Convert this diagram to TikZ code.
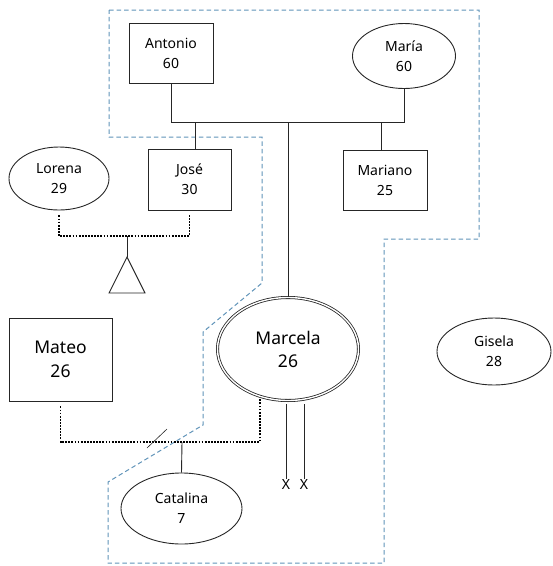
\documentclass[tikz,border=0pt]{standalone}
\usepackage{fontspec}
\setmainfont{Noto Sans}
\usetikzlibrary{positioning, shapes.geometric}
\definecolor{cdash}{HTML}{5F93B8}
\definecolor{cline}{HTML}{262626}
\tikzset{
  male/.style={draw=cline, line width=0.9pt, rectangle, inner sep=0pt, align=center},
  female/.style={draw=cline, line width=0.9pt, ellipse, inner sep=0pt, align=center},
  index/.style={double=white, double distance=1.4pt, line width=0.8pt},
  couple/.style={line width=1.8pt, dash pattern=on 1.8pt off 1.3pt},
  tie/.style={draw=cline, line width=0.9pt},
  bound/.style={cdash, line width=1pt, dash pattern=on 4.5pt off 3pt}
}

\begin{document}
\begin{tikzpicture}[x=1pt, y=-1pt, font={\fontsize{14}{20}\selectfont}]
  \useasboundingbox (0,0) rectangle (553,566);
  % household boundary
  \draw[bound] (109,10) -- (479,10) -- (479,239) -- (384,239) -- (384,563)
    -- (108,563) -- (108,482) -- (203,425) -- (203,332) -- (262,283)
    -- (262,137) -- (109,137) -- cycle;
  % people
  \node[male, minimum width=84pt, minimum height=60pt] (antonio) at (171,53) {Antonio\\60};
  \node[female, minimum width=103pt, minimum height=65pt] (maria) at (404,56) {María\\60};
  \node[male, minimum width=83pt, minimum height=61pt] (jose) at (189.5,179.5) {José\\30};
  \node[male, minimum width=84pt, minimum height=60pt] (mariano) at (385,180) {Mariano\\25};
  \node[female, minimum width=100pt, minimum height=63pt] (lorena) at (59,178.5) {Lorena\\29};
  \node[female, index, minimum width=141pt, minimum height=103pt, font={\fontsize{17.5}{23}\selectfont}] (marcela) at (288,349) {Marcela\\26};
  \node[male, minimum width=103pt, minimum height=83pt, font={\fontsize{17.5}{24}\selectfont}] (mateo) at (60.5,359.5) {Mateo\\26};
  \node[female, minimum width=121pt, minimum height=71pt] (catalina) at (181.5,508.5) {Catalina\\7};
  \node[female, minimum width=114pt, minimum height=67pt] (gisela) at (494,351.5) {Gisela\\28};
  \node[inner sep=0pt] (x1) at (286,484) {X};
  \node[inner sep=0pt] (x2) at (304,484) {X};
  % parents and children
  \coordinate (bar) at (0,122);
  \draw[tie] (antonio.south) -- (antonio.south |- bar) -- (maria.south |- bar) -- (maria.south);
  \draw[tie] ([xshift=5.5pt]jose.north) -- ([xshift=5.5pt]jose.north |- bar);
  \draw[tie] (marcela.north) -- (marcela.north |- bar);
  \draw[tie] ([xshift=-4pt]mariano.north) -- ([xshift=-4pt]mariano.north |- bar);
  % Lorena and José
  \coordinate (lj) at (127,236);
  \coordinate (tri) at (127,257);
  \draw[couple] ([yshift=-5pt]lorena.south) -- (lorena.south |- lj) -- (jose.south |- lj) -- ([yshift=-5pt]jose.south);
  \draw[tie] (lj) -- (tri);
  \draw[tie] (tri) -- ++(-18,36) -- ++(36,0) -- cycle;
  % Mateo and Marcela
  \coordinate (mm) at (182,442);
  \coordinate (mc) at (260,399);
  \draw[couple] ([yshift=-5pt]mateo.south) -- (mateo.south |- mm) -- (mc |- mm) -- (mc);
  \draw[tie, line width=0.6pt] (147,448) -- (167,429);
  \draw[tie] (mm) -- (catalina.north);
  \draw[tie] (286,404) -- (x1.north);
  \draw[tie] (304,404) -- (x2.north);
\end{tikzpicture}
\end{document}
